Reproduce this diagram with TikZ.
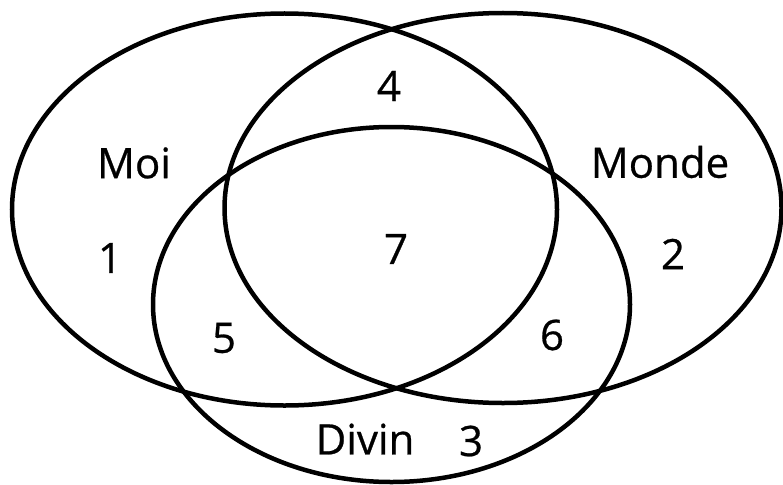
\documentclass[tikz,border=0pt]{standalone}
\usepackage{fontspec}
\setmainfont{Open Sans}
\newfontfamily\lblfont{Open Sans}[FakeBold=0.6]
\begin{document}
\begin{tikzpicture}[x=1pt,y=-1pt,
  ring/.style={draw=black,line width=4.5pt},
  lbl/.style={inner sep=0pt,font=\lblfont\fontsize{42}{50}\selectfont}]
\useasboundingbox (0,0) rectangle (783,484);
\draw[ring] (284.5,209.5) ellipse [x radius=272.5, y radius=196];
\draw[ring] (503,208) ellipse [x radius=278.5, y radius=195];
\draw[ring] (391.5,304.5) ellipse [x radius=238.5, y radius=177.5];
\node[lbl] (moi) at (134,163) {Moi};
\node[lbl] (monde) at (660,162) {Monde};
\node[lbl] (divin) at (365,439) {Divin};
\node[lbl] (n1) at (110,258) {1};
\node[lbl] (n2) at (673,254) {2};
\node[lbl] (n3) at (471,441) {3};
\node[lbl] (n4) at (389,86) {4};
\node[lbl] (n5) at (224,338) {5};
\node[lbl] (n6) at (552,335) {6};
\node[lbl] (n7) at (396,249) {7};
\end{tikzpicture}
\end{document}
